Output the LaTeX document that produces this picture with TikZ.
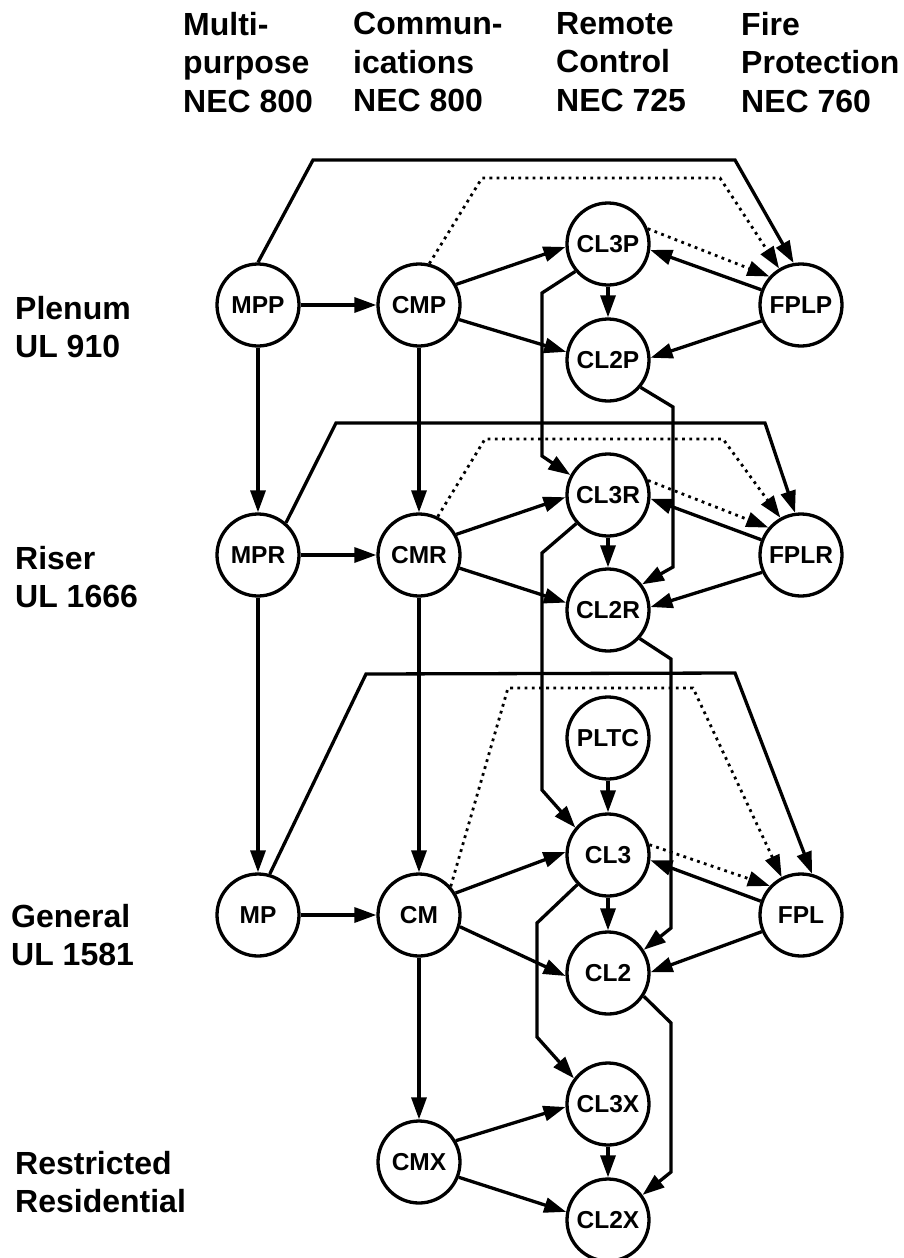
\documentclass[tikz,border=0pt]{standalone}
\usepackage{fontspec}
\setmainfont{Liberation Sans}
\usetikzlibrary{arrows.meta}

\begin{document}
\begin{tikzpicture}[
  x=1pt,
  y=-1pt,
  node distance=116pt
]

  \tikzstyle{cablenode}=[draw,circle,line width=3.3pt,minimum size=82pt,inner sep=0pt,font=\fontsize{24.5}{24.5}\selectfont\bfseries]
  \tikzstyle{labnode}=[anchor=north west,align=left,inner sep=0pt,font=\fontsize{32}{38.5}\selectfont\bfseries]
  \tikzstyle{pointer}=[draw,line width=3.3pt,-{Triangle[length=22pt,width=15pt]}]
  \tikzstyle{dotpointer}=[pointer,line width=2.8pt,dash pattern=on 2.8pt off 4.4pt]

  \useasboundingbox (0,0) rectangle (903,1258);

  % column and row headings
  \node[labnode] (hmulti)  at (183,12) {Multi-\\purpose\\NEC 800};
  \node[labnode] (hcomm)   at (353,12) {Commun-\\ications\\NEC 800};
  \node[labnode] (hremote) at (556,12) {Remote\\Control\\NEC 725};
  \node[labnode] (hfire)   at (741,12) {Fire\\Protection\\NEC 760};

  \node[labnode] (rplenum)  at (15,296)  {Plenum\\UL 910};
  \node[labnode] (rriser)   at (15,546)  {Riser\\UL 1666};
  \node[labnode] (rgeneral) at (11,904)  {General\\UL 1581};
  \node[labnode] (rresid)   at (15,1151) {Restricted\\Residential};

  % nodes
  \node[cablenode] (MPP)  at (258,305) {MPP};
  \node[cablenode] (CMP)  [right of=MPP, node distance=161pt] {CMP};
  \node[cablenode] (FPLP) at (801,305) {FPLP};
  \node[cablenode] (CL3P) at (608,244) {CL3P};
  \node[cablenode] (CL2P) [below of=CL3P] {CL2P};

  \node[cablenode] (MPR)  [below of=MPP, node distance=250pt] {MPR};
  \node[cablenode] (CMR)  [right of=MPR, node distance=161pt] {CMR};
  \node[cablenode] (FPLR) [below of=FPLP, node distance=250pt] {FPLR};
  \node[cablenode] (CL3R) [below of=CL3P, node distance=251pt] {CL3R};
  \node[cablenode] (CL2R) [below of=CL3R, node distance=115pt] {CL2R};

  \node[cablenode] (MP)   [below of=MPR, node distance=360pt] {MP};
  \node[cablenode] (CM)   [right of=MP, node distance=161pt] {CM};
  \node[cablenode] (FPL)  [below of=FPLR, node distance=360pt] {FPL};
  \node[cablenode] (PLTC) at (608,738) {PLTC};
  \node[cablenode] (CL3)  [below of=PLTC, node distance=117pt] {CL3};
  \node[cablenode] (CL2)  [below of=CL3, node distance=118pt] {CL2};

  \node[cablenode] (CMX)  [below of=CM, node distance=247pt] {CMX};
  \node[cablenode] (CL3X) at (608,1104) {CL3X};
  \node[cablenode] (CL2X) [below of=CL3X] {CL2X};

  % plenum
  \draw[pointer] (MPP) -- (CMP);
  \draw[pointer] (CMP.29) -- (CL3P.184);
  \draw[pointer] (CMP.340) -- (CL2P.169);
  \draw[pointer] (CL3P) -- (CL2P);
  \draw[pointer] (FPLP.159) -- (CL3P.352);
  \draw[pointer] (FPLP.202) -- (CL2P.3);
  \draw[dotpointer] (CL3P.21) -- (FPLP.138);
  \draw[pointer] (MPP.north) -- (313,160) -- (735,160) -- (FPLP.100);
  \draw[dotpointer] (CMP.76) -- (482,178) -- (720,178) -- (FPLP.121);
  \draw[pointer] (MPP) -- (MPR);
  \draw[pointer] (CMP) -- (CMR);
  \draw[pointer] (CL3P.220) -- (542,293) -- (542,456) -- (CL3R.152);
  \draw[pointer] (CL2P.320) -- (673,407) -- (673,567) -- (CL2R.37);

  % riser
  \draw[pointer] (MPR) -- (CMR);
  \draw[pointer] (CMR.29) -- (CL3R.183);
  \draw[pointer] (CMR.342) -- (CL2R.170);
  \draw[pointer] (CL3R) -- (CL2R);
  \draw[pointer] (FPLR.159) -- (CL3R.355);
  \draw[pointer] (FPLR.204) -- (CL2R.4);
  \draw[dotpointer] (CL3R.20) -- (FPLR.140);
  \draw[pointer] (MPR.49) -- (336,423) -- (765,423) -- (FPLR.98);
  \draw[dotpointer] (CMR.64) -- (485,439) -- (723,439) -- (FPLR.119);
  \draw[pointer] (MPR) -- (MP);
  \draw[pointer] (CMR) -- (CM);
  \draw[pointer] (CL3R.222) -- (542,553) -- (542,790) -- (CL3.140);
  \draw[pointer] (CL2R.318) -- (671,659) -- (671,928) -- (CL2.33);

  % general
  \draw[pointer] (MP) -- (CM);
  \draw[pointer] (CM.31) -- (CL3.176);
  \draw[pointer] (CM.344) -- (CL2.184);
  \draw[pointer] (CL3) -- (CL2);
  \draw[pointer] (PLTC) -- (CL3);
  \draw[pointer] (FPL.161) -- (CL3.353);
  \draw[pointer] (FPL.203) -- (CL2.1);
  \draw[dotpointer] (CL3.14) -- (FPL.137);
  \draw[pointer] (MP.74) -- (366,674) -- (735,673) -- (FPL.75);
  \draw[dotpointer] (CM.42) -- (508,688) -- (693,688) -- (FPL.117);
  \draw[pointer] (CM) -- (CMX);
  \draw[pointer] (CL3.224) -- (537,923) -- (537,1037) -- (CL3X.143);
  \draw[pointer] (CL2.327) -- (671,1023) -- (671,1172) -- (CL2X.36);

  % restricted residential
  \draw[pointer] (CMX.30) -- (CL3X.184);
  \draw[pointer] (CMX.339) -- (CL2X.169);
  \draw[pointer] (CL3X) -- (CL2X);

\end{tikzpicture}
\end{document}
